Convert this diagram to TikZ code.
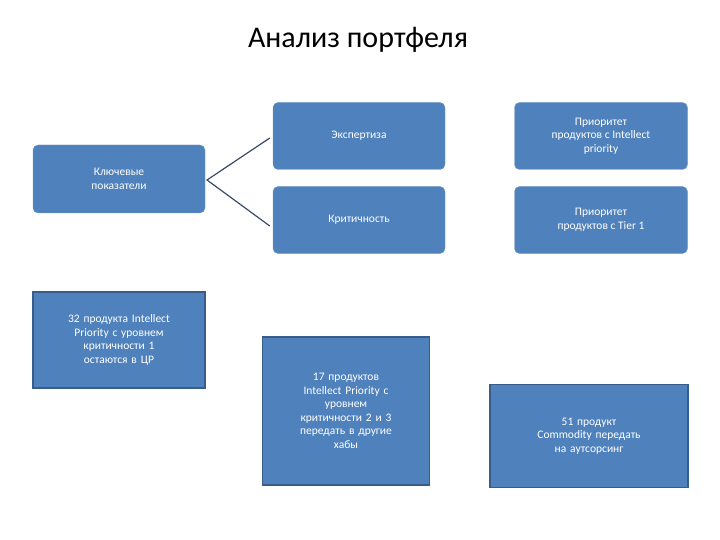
\documentclass[tikz,border=0pt]{standalone}
\usepackage{fontspec}
\setmainfont{Carlito}
\definecolor{bx}{HTML}{4F81BD}
\definecolor{bd}{HTML}{385D8A}
\definecolor{ln}{HTML}{3A4A68}
\begin{document}
\begin{tikzpicture}[x=1pt,y=-1pt,
  rbox/.style={draw=bx!80!white,fill=bx,rounded corners=5pt,text=white,align=center,inner sep=2pt,font=\fontsize{11.5}{13.5}\selectfont},
  sbox/.style={draw=bd,line width=1.2pt,fill=bx,text=white,align=center,inner sep=2pt,font=\fontsize{11.5}{13.5}\selectfont}]
\useasboundingbox (0,0) rectangle (720,540);
\node (t) at (358,40) {\fontsize{30}{34}\selectfont Анализ портфеля};
\node[rbox,minimum width=172,minimum height=68] (k) at (119,179) {Ключевые\\показатели};
\node[rbox,minimum width=172,minimum height=67] (e) at (359,136) {Экспертиза};
\node[rbox,minimum width=172,minimum height=67] (c) at (359,220) {Критичность};
\node[rbox,minimum width=173,minimum height=67] (p1) at (601,136) {Приоритет\\продуктов с Intellect\\priority};
\node[rbox,minimum width=173,minimum height=67] (p2) at (601,220) {Приоритет\\продуктов с Tier 1};
\node[sbox,minimum width=172,minimum height=96,text width=165] (a) at (119,340) {32 продукта Intellect\\Priority с уровнем\\критичности 1\\остаются в ЦР};
\node[sbox,minimum width=167,minimum height=148,text width=160] (b) at (346,411) {17 продуктов\\Intellect Priority  с\\уровнем\\критичности 2 и 3\\передать в другие\\хабы};
\node[sbox,minimum width=198,minimum height=103,text width=190] (d) at (589,436) {51 продукт\\Commodity передать\\на аутсорсинг};
\coordinate (v) at (207,180);
\draw[ln,line width=1.2pt] (e.west) ++(-3,2) -- (v) -- ([shift={(-3,6)}]c.west);
\end{tikzpicture}
\end{document}
